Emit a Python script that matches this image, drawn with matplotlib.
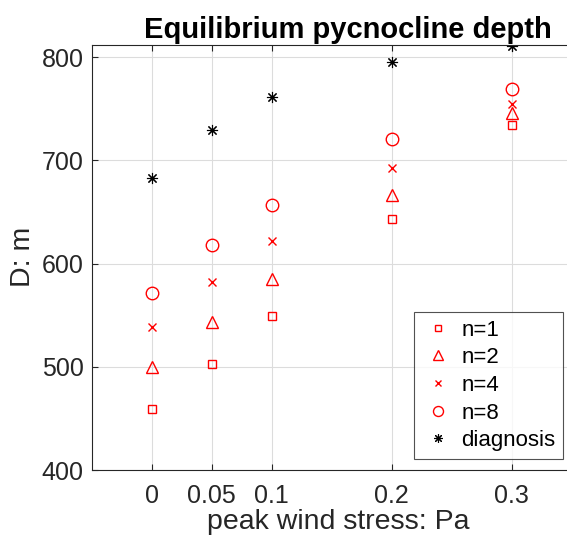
import matplotlib.pyplot as plt
import numpy as np

plt.rcParams['font.family'] = ['Liberation Sans', 'DejaVu Sans']

# peak wind stress (Pa)
tau = [0, 0.05, 0.1, 0.2, 0.3]

# equilibrium pycnocline depth (m)
D_n1 = [459, 503, 549, 643, 734]
D_n2 = [500, 543, 585, 666, 746]
D_n4 = [539, 582, 622, 693, 755]
D_n8 = [571, 618, 657, 721, 769]
D_diag = [683, 729, 761, 795, 811]

fig = plt.figure(figsize=(5.67, 5.39), dpi=100)
ax = fig.add_axes([0.162, 0.128, 0.838, 0.789])

ax.plot(tau, D_n1, 's', mfc='none', mec='red', ms=6, mew=1, label='n=1')
ax.plot(tau, D_n2, '^', mfc='none', mec='red', ms=9, mew=1, label='n=2')
ax.plot(tau, D_n4, 'x', color='red', ms=6, mew=1, label='n=4')
ax.plot(tau, D_n8, 'o', mfc='none', mec='red', ms=9, mew=1, label='n=8')
ax.plot(tau, D_diag, marker=(8, 2, 0), ls='none', color='black', ms=8, mew=0.8, label='diagnosis')

ax.set_xlim(-0.05, 0.346)
ax.set_ylim(400, 812)
ax.set_xticks(tau)
ax.set_xticklabels(['0', '0.05', '0.1', '0.2', '0.3'])
ax.set_yticks([400, 500, 600, 700, 800])

ax.grid(True, color='#dcdcdc', linewidth=0.8)
ax.set_axisbelow(True)
ax.spines['right'].set_visible(False)
for s in ['left', 'top', 'bottom']:
    ax.spines[s].set_color('#262626')
    ax.spines[s].set_linewidth(0.8)
ax.tick_params(direction='in', length=4, top=True, right=False,
               labelsize=18, colors='#262626', pad=6)
ax.tick_params(axis='x', pad=10)

ax.set_xlabel('peak wind stress: Pa', fontsize=20.5, color='#262626', labelpad=3)
ax.xaxis.set_label_coords(0.518, -0.092, transform=ax.transAxes)
ax.xaxis.label.set_va('top')
ax.set_ylabel('D: m', fontsize=20.5, color='#262626', labelpad=4)
ax.set_title('Equilibrium pycnocline depth', fontsize=21, fontweight='bold', pad=5, x=0.538)

# legend box placed against the lower right, as in the reference
leg = ax.legend(loc='lower right', bbox_to_anchor=(0.9916, 0.026), fontsize=16,
                frameon=True, fancybox=False, edgecolor='#262626',
                handletextpad=0.31, borderpad=0.35, labelspacing=0.3,
                handlelength=1.46, markerscale=0.8, borderaxespad=0)
leg.get_frame().set_linewidth(0.8)

fig.savefig('out.png', dpi=100)
